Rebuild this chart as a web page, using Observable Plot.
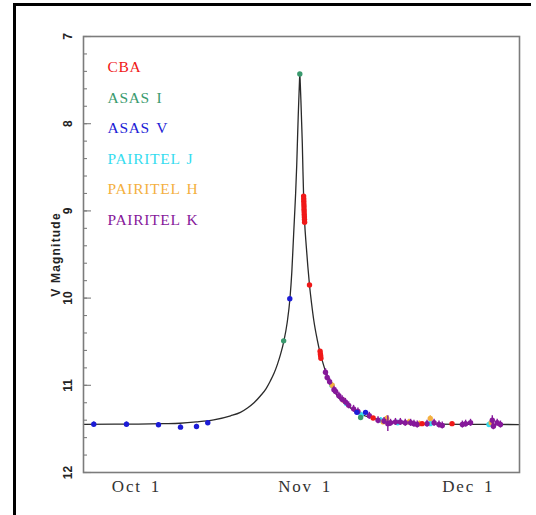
<!DOCTYPE html>
<html><head><meta charset="utf-8">
<script src="https://cdn.jsdelivr.net/npm/d3@7"></script>
<script src="https://cdn.jsdelivr.net/npm/@observablehq/plot@0.6"></script>
<style>
body{margin:0;background:#fff;}
#wrap{position:relative;width:536px;height:515px;overflow:hidden;background:#fff;}
#chart{position:absolute;left:0;top:0;}
#border{position:absolute;left:13px;top:3px;width:518px;height:530px;border-top:3px solid #000;border-left:3px solid #000;box-sizing:border-box;pointer-events:none;}
</style></head><body>
<div id="wrap"><div id="chart"></div><div id="border"></div></div>
<script>
// x values: days after 2006 Oct 1 0h UT; y values: V magnitude
const xDomain = [-9.74, 70.4];
const yDomain = [7, 12];
const xTickDays = [0, 31, 61];
const xTickLabels = ["Oct 1", "Nov 1", "Dec 1"];
const yMajorTicks = [7, 8, 9, 10, 11, 12];
const yMinorTicks = d3.range(7, 12.001, 0.2);
const yAxisLabel = "V Magnitude";

const seriesNames = ["CBA", "ASAS I", "ASAS V", "PAIRITEL J", "PAIRITEL H", "PAIRITEL K"];
const seriesColors = ["#f01818", "#3a9a6e", "#1c1cd6", "#35dcef", "#f4b040", "#86189a"];

// model light curve: [day, mag]
const modelCurve = [
  [-9.74, 11.447], [0, 11.445], [5, 11.44], [8, 11.435], [11, 11.42], [14.2, 11.396],
  [17.3, 11.35], [19.1, 11.31], [20.4, 11.26], [21.6, 11.2], [22.8, 11.12], [23.8, 11.04],
  [24.6, 10.95], [25.3, 10.86], [25.9, 10.76], [26.5, 10.64], [27.1, 10.49], [27.7, 10.28],
  [28.2, 10.01], [28.55, 9.7], [28.8, 9.38], [29.05, 9.06], [29.25, 8.8], [29.45, 8.48],
  [29.6, 8.17], [29.72, 7.93], [29.83, 7.73], [29.95, 7.53], [30.02, 7.43], [30.1, 7.53],
  [30.22, 7.73], [30.35, 7.98], [30.48, 8.23], [30.6, 8.55], [30.72, 8.83], [30.9, 9.12],
  [31.2, 9.4], [31.5, 9.64], [31.8, 9.85], [32.2, 10.07], [32.6, 10.26], [33.2, 10.47],
  [33.8, 10.64], [34.3, 10.75], [34.74, 10.84], [35.2, 10.92], [35.7, 10.99], [36.3, 11.06],
  [36.9, 11.12], [37.6, 11.17], [38.3, 11.21], [39.1, 11.25], [40.0, 11.29], [41.0, 11.325],
  [42.2, 11.355], [43.6, 11.38], [45, 11.4], [46.5, 11.415], [48.5, 11.43], [51, 11.44],
  [55, 11.446], [60, 11.448], [70.4, 11.45]
];

// observations: [day, mag, error]
const cba = [
  [30.72, 8.83, 0.01], [30.74, 8.86, 0.01], [30.75, 8.89, 0.01], [30.77, 8.92, 0.01],
  [30.79, 8.95, 0.01], [30.8, 8.98, 0.01], [30.82, 9.01, 0.01], [30.84, 9.04, 0.01],
  [30.86, 9.07, 0.01], [30.88, 9.1, 0.01], [30.9, 9.13, 0.01],
  [31.8, 9.85, 0.01], [33.75, 10.61, 0.01], [33.8, 10.64, 0.01], [33.85, 10.66, 0.01],
  [33.9, 10.69, 0.01], [43.5, 11.375, 0.01], [52.5, 11.44, 0.01], [58.0, 11.44, 0.01]
];
const asasI = [[27.05, 10.49, 0.01], [30.02, 7.43, 0.01], [41.2, 11.37, 0.01]];
const asasV = [
  [-7.85, 11.446, 0.025], [-1.84, 11.446, 0.025], [4.04, 11.453, 0.025], [8.09, 11.48, 0.025],
  [11.03, 11.473, 0.025], [13.1, 11.43, 0.025], [28.18, 10.008, 0.015], [40.5, 11.31, 0.02],
  [42.1, 11.31, 0.02]
];
const pairJ = [
  [35.9, 11.0, 0.03], [38.6, 11.21, 0.03], [41.3, 11.34, 0.03], [44.9, 11.4, 0.03],
  [48.0, 11.43, 0.03], [54.0, 11.44, 0.03], [64.8, 11.45, 0.03]
];
const pairH = [
  [35.97, 11.0, 0.03], [38.0, 11.17, 0.03], [45.35, 11.42, 0.03], [46.0, 11.38, 0.03],
  [50.1, 11.42, 0.03], [52.0, 11.44, 0.03], [54.0, 11.38, 0.03], [65.2, 11.43, 0.03]
];
const pairK = [
  [34.74, 10.85, 0.04], [35.05, 10.91, 0.04], [35.5, 10.96, 0.04], [36.3, 11.05, 0.04],
  [36.6, 11.07, 0.04], [37.2, 11.12, 0.04], [37.8, 11.16, 0.04], [38.4, 11.19, 0.04],
  [39.0, 11.23, 0.04], [39.9, 11.27, 0.04], [40.7, 11.3, 0.04], [42.8, 11.35, 0.04],
  [44.4, 11.4, 0.04], [45.5, 11.41, 0.04], [46.2, 11.44, 0.09], [46.7, 11.43, 0.04],
  [47.6, 11.42, 0.04], [48.5, 11.42, 0.04], [49.4, 11.43, 0.04], [50.4, 11.43, 0.04],
  [51.0, 11.44, 0.04], [51.6, 11.45, 0.04], [53.4, 11.44, 0.04], [54.7, 11.43, 0.04],
  [55.6, 11.45, 0.04], [56.2, 11.46, 0.04], [59.9, 11.45, 0.04], [60.5, 11.44, 0.04],
  [61.4, 11.43, 0.04], [65.4, 11.4, 0.05], [65.6, 11.47, 0.04], [66.3, 11.43, 0.04],
  [66.9, 11.45, 0.04]
];

const drawOrder = [[pairJ, 3], [pairH, 4], [pairK, 5], [cba, 0], [asasI, 1], [asasV, 2]];
const seriesMarks = drawOrder.flatMap(([data, i]) => [
  Plot.ruleX(data, {x: d => d[0], y1: d => d[1] - d[2], y2: d => d[1] + d[2], stroke: seriesColors[i], strokeWidth: 1.4}),
  Plot.dot(data, {x: d => d[0], y: d => d[1], r: 2.7, fill: seriesColors[i], stroke: "none"})
]);

const grey = "#7c7c7c";
const chart = Plot.plot({
  width: 536, height: 515,
  marginLeft: 83, marginRight: 17, marginTop: 36, marginBottom: 43,
  x: {domain: xDomain, axis: null},
  y: {domain: yDomain, reverse: true, axis: null},
  style: {background: "#fff"},
  marks: [
    Plot.line(modelCurve, {x: d => d[0], y: d => d[1], stroke: "#2a2a2a", strokeWidth: 1.3, curve: "monotone-x"}),
    ...seriesMarks,
    Plot.frame({stroke: grey, strokeWidth: 1.6}),
    Plot.tickY(yMinorTicks, {y: d => d, insetRight: 432, stroke: grey, strokeWidth: 1.1}),
    Plot.tickY(yMajorTicks, {y: d => d, insetRight: 428, stroke: grey, strokeWidth: 1.1}),
    Plot.text(yMajorTicks, {y: d => d, text: d => String(d), frameAnchor: "left", dx: -15, rotate: -90,
      textAnchor: "middle", fontSize: 12, fontWeight: "bold", fontFamily: "Liberation Sans, Arial, sans-serif", fill: "#222"}),
    Plot.text([yAxisLabel], {text: d => d, frameAnchor: "left", dx: -27, rotate: -90, textAnchor: "middle",
      fontSize: 12, fontWeight: "bold", fontFamily: "Liberation Sans, Arial, sans-serif", fill: "#222"}),
    Plot.text(xTickLabels, {x: (d, i) => xTickDays[i], text: d => d, frameAnchor: "bottom", dy: 19,
      fontSize: 17, fontFamily: "Liberation Serif, DejaVu Serif, serif", fill: "#333"}),
    ...seriesNames.map((name, i) => Plot.text([name], {text: d => d, frameAnchor: "top-left", dx: 24, dy: 31 + i * 30.5,
      textAnchor: "start", lineAnchor: "middle", fontSize: 15.5,
      fontFamily: "Liberation Serif, DejaVu Serif, serif", fill: seriesColors[i]}))
  ]
});
d3.select(chart).selectAll("text").each(function () {
  const t = this.textContent;
  if (xTickLabels.includes(t)) { this.style.letterSpacing = "1.8px"; this.style.wordSpacing = "3px"; }
  else if (seriesNames.includes(t)) { this.style.letterSpacing = "0.7px"; this.style.wordSpacing = "2px"; }
  else if (t === yAxisLabel) { this.style.letterSpacing = "1.2px"; }
});
document.getElementById("chart").append(chart);
</script>
</body></html>
